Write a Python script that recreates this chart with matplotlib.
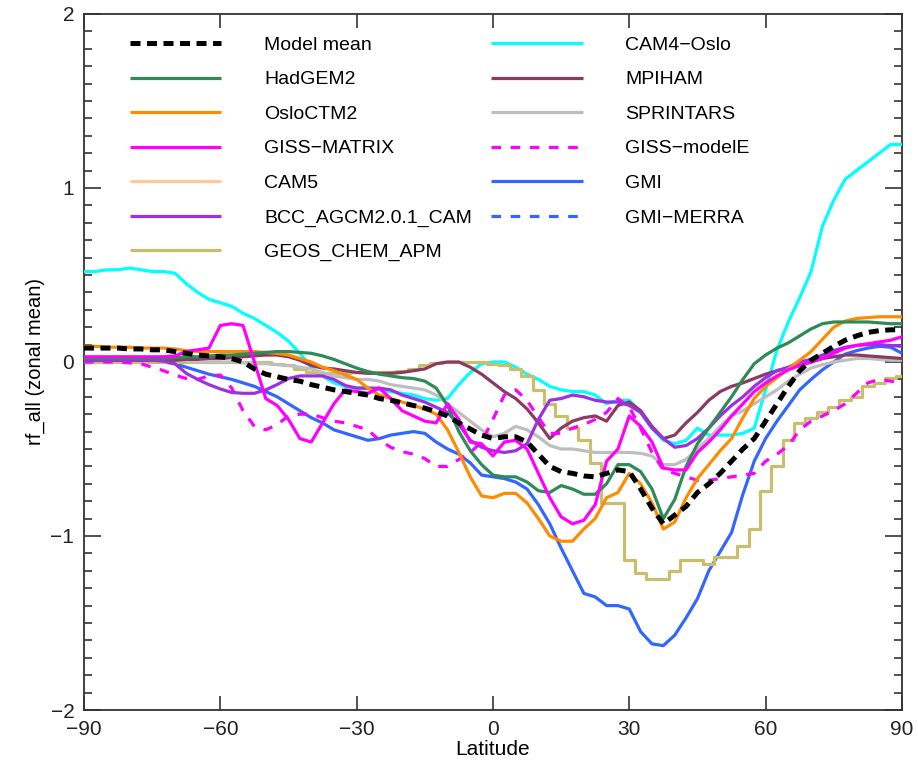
import numpy as np
import matplotlib
matplotlib.use("Agg")
import matplotlib.pyplot as plt
from matplotlib.ticker import MultipleLocator

plt.rcParams['font.family'] = ['Liberation Sans', 'DejaVu Sans']

lat = np.arange(-90, 90.01, 2.5)

model_mean = [0.08, 0.08, 0.08, 0.08, 0.075, 0.075, 0.07, 0.07, 0.06, 0.05, 0.04, 0.035, 0.03, 0.02, 0.0,
              -0.04, -0.07, -0.085, -0.10, -0.11, -0.13, -0.145, -0.16, -0.17, -0.18, -0.19, -0.21, -0.22,
              -0.235, -0.25, -0.265, -0.285, -0.31, -0.35, -0.385, -0.42, -0.44, -0.43, -0.43, -0.46, -0.53,
              -0.60, -0.63, -0.64, -0.655, -0.66, -0.64, -0.62, -0.63, -0.73, -0.84, -0.93, -0.88, -0.83,
              -0.75, -0.70, -0.64, -0.57, -0.50, -0.44, -0.34, -0.24, -0.14, -0.05, 0.01, 0.05, 0.09, 0.125,
              0.15, 0.17, 0.18, 0.185, 0.185]
hadgem2 = [0.02, 0.02, 0.02, 0.02, 0.02, 0.02, 0.02, 0.02, 0.025, 0.03, 0.03, 0.035, 0.04, 0.04, 0.045,
           0.05, 0.055, 0.06, 0.06, 0.055, 0.05, 0.035, 0.015, -0.01, -0.035, -0.055, -0.07, -0.08, -0.09,
           -0.095, -0.11, -0.15, -0.25, -0.40, -0.51, -0.59, -0.65, -0.66, -0.66, -0.69, -0.74, -0.75, -0.71,
           -0.73, -0.76, -0.76, -0.70, -0.59, -0.59, -0.63, -0.73, -0.90, -0.79, -0.60, -0.47, -0.38, -0.29,
           -0.20, -0.10, -0.01, 0.04, 0.08, 0.11, 0.15, 0.19, 0.22, 0.23, 0.23, 0.23, 0.23, 0.225, 0.22, 0.22]
osloctm2 = [0.09, 0.09, 0.085, 0.085, 0.085, 0.08, 0.08, 0.08, 0.075, 0.065, 0.06, 0.06, 0.06, 0.06, 0.06,
            0.06, 0.055, 0.05, 0.04, 0.02, 0.0, -0.03, -0.05, -0.075, -0.10, -0.15, -0.19, -0.21, -0.23,
            -0.25, -0.27, -0.30, -0.39, -0.52, -0.66, -0.77, -0.78, -0.755, -0.755, -0.81, -0.90, -1.0, -1.03,
            -1.03, -0.96, -0.90, -0.78, -0.75, -0.64, -0.70, -0.81, -0.96, -0.92, -0.78, -0.67, -0.59, -0.51,
            -0.44, -0.32, -0.21, -0.14, -0.09, -0.04, 0.01, 0.06, 0.13, 0.20, 0.235, 0.25, 0.255, 0.26, 0.26, 0.26]
giss_matrix = [0.03, 0.03, 0.03, 0.03, 0.03, 0.03, 0.03, 0.03, 0.035, 0.06, 0.07, 0.08, 0.21, 0.22, 0.21,
               0.0, -0.21, -0.25, -0.33, -0.44, -0.46, -0.35, -0.24, -0.16, -0.17, -0.18, -0.15, -0.21, -0.28,
               -0.31, -0.34, -0.35, -0.24, -0.33, -0.46, -0.47, -0.54, -0.46, -0.45, -0.50, -0.64, -0.78, -0.89,
               -0.93, -0.91, -0.82, -0.57, -0.50, -0.31, -0.37, -0.46, -0.61, -0.62, -0.62, -0.52, -0.46, -0.39,
               -0.31, -0.24, -0.17, -0.12, -0.08, -0.045, -0.02, 0.0, 0.02, 0.05, 0.08, 0.095, 0.105, 0.115,
               0.125, 0.145]
cam5 = []
bcc = [0.01, 0.01, 0.01, 0.01, 0.01, 0.01, 0.01, 0.005, -0.01, -0.065, -0.10, -0.13, -0.155, -0.175, -0.18,
       -0.18, -0.16, -0.13, -0.095, -0.08, -0.08, -0.08, -0.10, -0.135, -0.15, -0.15, -0.15, -0.16, -0.19,
       -0.21, -0.23, -0.26, -0.29, -0.36, -0.45, -0.49, -0.51, -0.52, -0.51, -0.47, -0.33, -0.22, -0.21,
       -0.19, -0.20, -0.22, -0.23, -0.23, -0.25, -0.29, -0.38, -0.44, -0.49, -0.48, -0.44, -0.38, -0.31,
       -0.25, -0.20, -0.14, -0.09, -0.05, -0.03, 0.0, 0.015, 0.04, 0.065, 0.085, 0.095, 0.10, 0.10, 0.095, 0.09]
geos_chem = [0.0, 0.0, 0.0, 0.0, 0.0, 0.0, 0.0, 0.0, 0.0, 0.0, 0.0, 0.0, 0.0, 0.0, 0.0,
             0.0, 0.0, -0.01, -0.02, -0.04, -0.06, -0.065, -0.065, -0.065, -0.06, -0.06, -0.055, -0.055,
             -0.05, -0.04, -0.02, -0.005, 0.0, 0.0, 0.0, 0.0, -0.01, -0.02, -0.04, -0.08, -0.16, -0.24, -0.31,
             -0.38, -0.45, -0.58, -0.81, -0.81, -1.14, -1.215, -1.25, -1.25, -1.20, -1.14, -1.14, -1.16,
             -1.12, -1.12, -1.06, -0.96, -0.74, -0.60, -0.45, -0.35, -0.32, -0.29, -0.26, -0.22, -0.20,
             -0.14, -0.12, -0.09, -0.08]
cam4_oslo = [0.52, 0.52, 0.53, 0.53, 0.54, 0.53, 0.52, 0.52, 0.51, 0.45, 0.40, 0.36, 0.34, 0.32, 0.28,
             0.25, 0.21, 0.17, 0.12, 0.05, -0.03, -0.08, -0.12, -0.14, -0.15, -0.15, -0.16, -0.17, -0.18,
             -0.19, -0.21, -0.22, -0.21, -0.13, -0.06, -0.01, 0.0, 0.0, -0.03, -0.07, -0.10, -0.14, -0.16,
             -0.17, -0.17, -0.19, -0.24, -0.22, -0.22, -0.29, -0.38, -0.45, -0.47, -0.45, -0.38, -0.42, -0.42,
             -0.42, -0.41, -0.38, -0.16, 0.07, 0.23, 0.37, 0.52, 0.78, 0.93, 1.05, 1.10, 1.15, 1.20, 1.25, 1.25]
mpiham = [0.01, 0.01, 0.01, 0.01, 0.01, 0.01, 0.01, 0.01, 0.01, 0.015, 0.015, 0.02, 0.02, 0.025, 0.03,
          0.035, 0.04, 0.04, 0.03, 0.01, -0.02, -0.035, -0.04, -0.05, -0.06, -0.065, -0.065, -0.065, -0.06,
          -0.05, -0.04, -0.01, 0.0, 0.0, -0.03, -0.07, -0.12, -0.17, -0.21, -0.27, -0.35, -0.44, -0.38, -0.34,
          -0.32, -0.31, -0.34, -0.25, -0.23, -0.28, -0.37, -0.44, -0.42, -0.35, -0.29, -0.22, -0.17, -0.14,
          -0.12, -0.095, -0.07, -0.05, -0.035, -0.02, 0.0, 0.02, 0.03, 0.04, 0.04, 0.035, 0.03, 0.025, 0.02]
sprintars = [0.01, 0.01, 0.01, 0.01, 0.01, 0.01, 0.01, 0.01, 0.01, 0.005, 0.0, 0.0, 0.0, 0.0, -0.005,
             -0.01, -0.01, -0.015, -0.02, -0.03, -0.04, -0.06, -0.08, -0.09, -0.10, -0.10, -0.11, -0.13, -0.14,
             -0.15, -0.16, -0.19, -0.24, -0.29, -0.34, -0.39, -0.43, -0.41, -0.37, -0.39, -0.43, -0.48, -0.50,
             -0.50, -0.51, -0.52, -0.52, -0.52, -0.52, -0.525, -0.54, -0.59, -0.59, -0.56, -0.50, -0.44, -0.37,
             -0.31, -0.28, -0.24, -0.20, -0.16, -0.11, -0.07, -0.035, -0.015, 0.0, 0.01, 0.02, 0.02, 0.015,
             0.01, 0.01]
giss_modele = [0.0, 0.0, 0.0, 0.0, -0.005, -0.01, -0.03, -0.05, -0.075, -0.095, -0.10, -0.08, -0.075, -0.15,
               -0.28, -0.37, -0.39, -0.36, -0.31, -0.30, -0.30, -0.32, -0.34, -0.35, -0.37, -0.39, -0.45, -0.49,
               -0.515, -0.53, -0.555, -0.60, -0.60, -0.56, -0.52, -0.46, -0.33, -0.19, -0.16, -0.22, -0.32,
               -0.41, -0.41, -0.38, -0.36, -0.33, -0.29, -0.21, -0.26, -0.38, -0.52, -0.62, -0.64, -0.66, -0.68,
               -0.68, -0.67, -0.66, -0.65, -0.64, -0.57, -0.53, -0.48, -0.39, -0.34, -0.31, -0.28, -0.24, -0.18,
               -0.12, -0.10, -0.11, -0.12]
gmi = [0.01, 0.01, 0.01, 0.01, 0.01, 0.01, 0.005, 0.0, -0.01, -0.03, -0.05, -0.07, -0.085, -0.10, -0.12,
       -0.14, -0.17, -0.20, -0.24, -0.28, -0.32, -0.35, -0.39, -0.41, -0.43, -0.45, -0.44, -0.42, -0.41,
       -0.40, -0.41, -0.46, -0.50, -0.53, -0.58, -0.65, -0.66, -0.67, -0.69, -0.73, -0.82, -0.93, -1.07,
       -1.20, -1.33, -1.35, -1.40, -1.40, -1.42, -1.55, -1.62, -1.63, -1.57, -1.47, -1.36, -1.20, -1.09,
       -0.98, -0.76, -0.57, -0.44, -0.34, -0.25, -0.16, -0.10, -0.045, 0.0, 0.045, 0.065, 0.08, 0.09,
       0.085, 0.05]
gmi_merra = []

names_col1 = ['Model mean', 'HadGEM2', 'OsloCTM2', 'GISS\u2212MATRIX', 'CAM5',
              'BCC_AGCM2.0.1_CAM', 'GEOS_CHEM_APM']
names_col2 = ['CAM4\u2212Oslo', 'MPIHAM', 'SPRINTARS', 'GISS\u2212modelE', 'GMI', 'GMI\u2212MERRA']

series = [
    (model_mean, 'black', (0, (2.0, 1.3)), 3.6, 'default'),
    (hadgem2, '#2E8B57', '-', 2.3, 'default'),
    (osloctm2, '#FF8C00', '-', 2.3, 'default'),
    (giss_matrix, '#FF00FF', '-', 2.3, 'default'),
    (cam5, '#FFC896', '-', 2.3, 'default'),
    (bcc, '#9A32E0', '-', 2.3, 'default'),
    (geos_chem, '#C8BE6E', '-', 2.3, 'steps-mid'),
    (cam4_oslo, '#00FFFF', '-', 2.3, 'default'),
    (mpiham, '#8B3A62', '-', 2.3, 'default'),
    (sprintars, '#BEBEBE', '-', 2.3, 'default'),
    (giss_modele, '#FF00FF', (0, (3.0, 3.0)), 2.3, 'default'),
    (gmi, '#3366FF', '-', 2.3, 'default'),
    (gmi_merra, '#3366FF', (0, (3.0, 3.0)), 2.3, 'default'),
]
labels = names_col1 + names_col2
zorders = [20, 12, 11, 13, 9, 10, 8, 7, 9, 8, 9, 6, 5]

fig = plt.figure(figsize=(9.18, 7.73), dpi=100)
ax = fig.add_axes([0.0915, 0.0815, 0.891, 0.9004])

handles = []
for (vals, col, ls, lw, ds), lab, zo in zip(series, labels, zorders):
    x = lat[:len(vals)]
    h, = ax.plot(x, vals, color=col, linestyle=ls, linewidth=lw, label=lab,
                 zorder=zo, solid_capstyle='butt', dash_capstyle='butt', drawstyle=ds)
    handles.append(h)

ax.set_xlim(-90, 90)
ax.set_ylim(-2, 2)
ax.set_xticks([-90, -60, -30, 0, 30, 60, 90])
ax.set_yticks([-2, -1, 0, 1, 2])
ax.yaxis.set_minor_locator(MultipleLocator(0.1))
ax.tick_params(axis='both', which='both', direction='in', top=True, right=True,
               labelsize=15, colors='#222222', width=1.1)
ax.tick_params(axis='y', which='major', length=12, pad=7)
ax.tick_params(axis='y', which='minor', length=6)
ax.tick_params(axis='x', which='major', length=10, pad=7)
for sp in ax.spines.values():
    sp.set_linewidth(1.3)
    sp.set_color('#333333')

ax.set_xlabel('Latitude', fontsize=15, labelpad=1)
ax.set_ylabel('rf_all (zonal mean)', fontsize=14.5, labelpad=4)

leg = ax.legend(handles=handles, labels=labels, ncol=2, loc='upper left',
                bbox_to_anchor=(0.056, 0.968), frameon=False, fontsize=14,
                handlelength=4.7, handletextpad=2.2, columnspacing=1.0,
                labelspacing=0.87, borderpad=0, borderaxespad=0)

fig.savefig('out.png', dpi=100)
